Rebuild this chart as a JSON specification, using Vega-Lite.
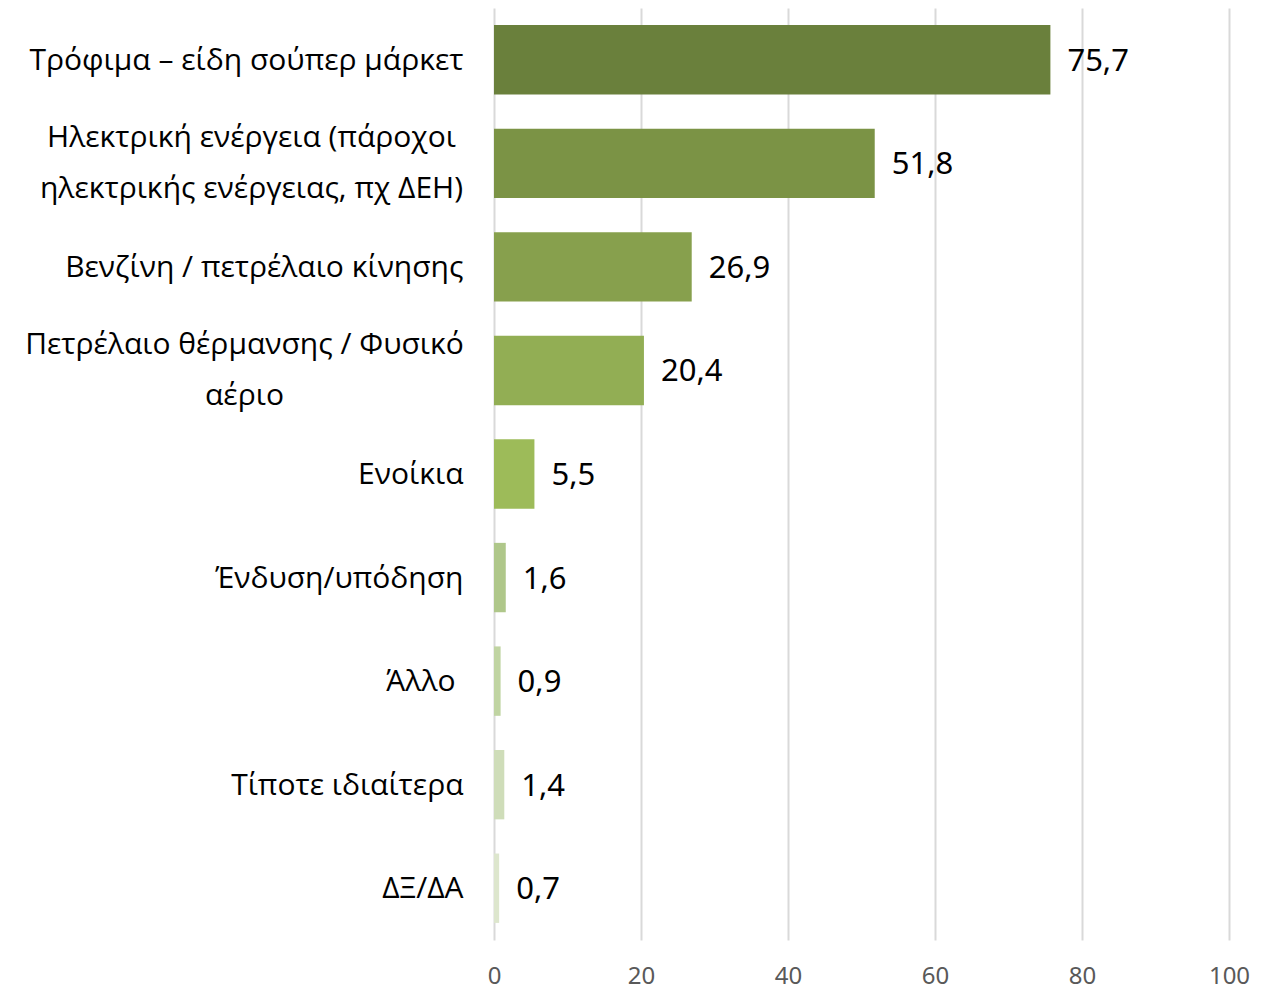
{
  "$schema": "https://vega.github.io/schema/vega-lite/v6.json",
  "width": 735,
  "height": 932,
  "autosize": "none",
  "padding": {"left": 494, "top": 8, "right": 36, "bottom": 49},
  "background": "white",
  "config": {
    "view": {"stroke": null},
    "font": "Noto Sans",
    "locale": {"number": {"decimal": ",", "thousands": ".", "grouping": [3], "currency": ["", " €"]}}
  },
  "data": {
    "values": [
      {"cat": "Τρόφιμα – είδη σούπερ μάρκετ", "value": 75.7},
      {"cat": "Ηλεκτρική ενέργεια (πάροχοι|ηλεκτρικής ενέργειας, πχ ΔΕΗ)", "value": 51.8},
      {"cat": "Βενζίνη / πετρέλαιο κίνησης", "value": 26.9},
      {"cat": "Πετρέλαιο θέρμανσης / Φυσικό|αέριο", "value": 20.4},
      {"cat": "Ενοίκια", "value": 5.5},
      {"cat": "Ένδυση/υπόδηση", "value": 1.6},
      {"cat": "Άλλο", "value": 0.9},
      {"cat": "Τίποτε ιδιαίτερα", "value": 1.4},
      {"cat": "ΔΞ/ΔΑ", "value": 0.7}
    ]
  },
  "encoding": {
    "y": {
      "field": "cat",
      "type": "nominal",
      "sort": null,
      "scale": {"paddingInner": 0.33, "paddingOuter": 0.165},
      "axis": {
        "title": null,
        "domain": false,
        "ticks": false,
        "labelExpr": "split(datum.value, '|')",
        "labelFont": "Open Sans",
        "labelFontSize": 30,
        "labelColor": "#000000",
        "labelLineHeight": 51,
        "labelLimit": 600,
        "labelAlign": {"condition": {"test": "indexof(datum.value, '|') >= 0", "value": "center"}, "value": "right"},
        "labelOffset": {"condition": {"test": "indexof(datum.value, '|') >= 0", "value": -25}, "value": 1},
        "labelPadding": {"condition": [
          {"test": "indexof(datum.value, 'Ηλεκτρική') >= 0", "value": 243},
          {"test": "indexof(datum.value, 'θέρμανσης') >= 0", "value": 250},
          {"test": "datum.value == 'Άλλο'", "value": 39}
        ], "value": 31}
      }
    },
    "x": {
      "field": "value",
      "type": "quantitative",
      "scale": {"domain": [0, 100], "nice": false},
      "axis": {
        "title": null,
        "domain": false,
        "ticks": false,
        "values": [0, 20, 40, 60, 80, 100],
        "labelFlush": false,
        "labelFontSize": 24,
        "labelColor": "#595959",
        "labelPadding": 24,
        "gridColor": "#d9d9d9",
        "gridWidth": 2
      }
    }
  },
  "layer": [
    {
      "mark": {"type": "bar"},
      "encoding": {
        "color": {
          "field": "cat",
          "type": "nominal",
          "sort": null,
          "legend": null,
          "scale": {"range": ["#6a803c", "#7b9345", "#87a04d", "#92ae54", "#9dbb59", "#afc78a", "#c0d4a2", "#cfddb9", "#dde6cd"]}
        }
      }
    },
    {
      "mark": {"type": "text", "align": "left", "baseline": "middle", "dx": 17, "dy": 2, "fontSize": 31, "color": "#000000"},
      "encoding": {
        "text": {"field": "value", "type": "quantitative", "format": ".1f"}
      }
    }
  ]
}
